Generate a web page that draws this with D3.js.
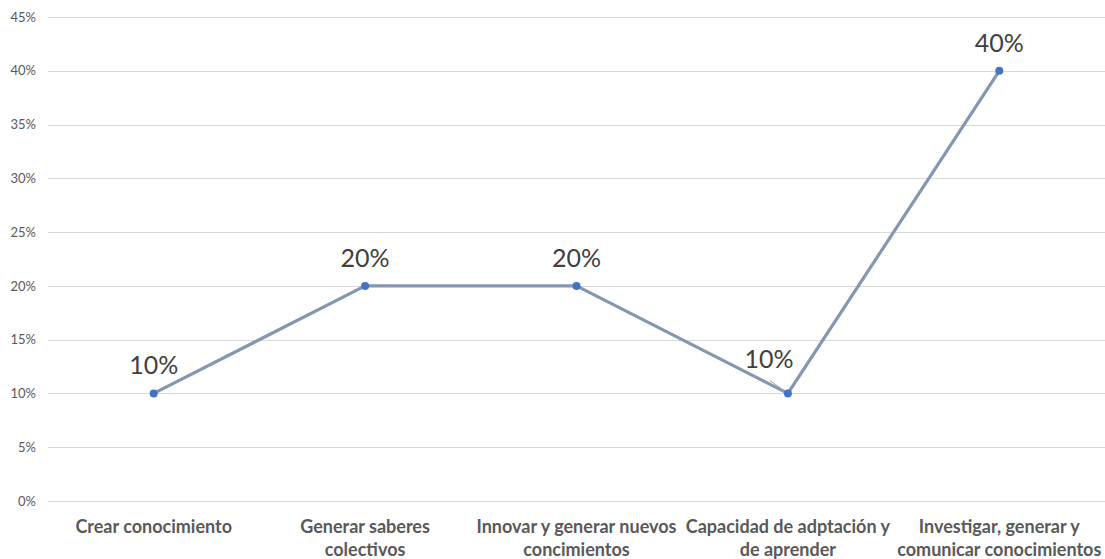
<!DOCTYPE html>
<html>
<head>
<meta charset="utf-8">
<script src="https://cdn.jsdelivr.net/npm/d3@7"></script>
<style>
  body { margin: 0; background: #fff; }
  svg { display: block; }
  .grid line { stroke: #d9d9d9; stroke-width: 1; }
  .yaxis text { font-family: Lato, "Open Sans", sans-serif; font-size: 13px; fill: #595959; }
  .xaxis text { font-family: Lato, "Open Sans", sans-serif; font-size: 18px; font-weight: bold; fill: #595959; }
  .lbl { font-family: Lato, "Open Sans", sans-serif; font-size: 25px; fill: #404040; }
</style>
</head>
<body>
<div id="chart"></div>
<script>
var categories = [
  ['Crear conocimiento'],
  ['Generar saberes', 'colectivos'],
  ['Innovar y generar nuevos', 'concimientos'],
  ['Capacidad de adptación y', 'de aprender'],
  ['Investigar, generar y', 'comunicar conocimientos']
];
var values = [0.10, 0.20, 0.20, 0.10, 0.40];
var yTicks = [0, 0.05, 0.10, 0.15, 0.20, 0.25, 0.30, 0.35, 0.40, 0.45];

var width = 1105, height = 559;
var margin = { top: 17, right: 0, bottom: 58, left: 48 };

var svg = d3.select('#chart').append('svg')
  .attr('width', width)
  .attr('height', height);

var x = d3.scaleBand()
  .domain(d3.range(categories.length))
  .range([margin.left, width - margin.right]);

var y = d3.scaleLinear()
  .domain([0, 0.45])
  .range([height - margin.bottom, margin.top]);

var fmt = d3.format('.0%');

// gridlines
svg.append('g')
  .attr('class', 'grid')
  .selectAll('line')
  .data(yTicks)
  .enter().append('line')
  .attr('x1', margin.left)
  .attr('x2', width - margin.right)
  .attr('y1', function (d) { return Math.round(y(d)) + 0.5; })
  .attr('y2', function (d) { return Math.round(y(d)) + 0.5; });

// y axis
var yAxis = d3.axisLeft(y).tickValues(yTicks).tickFormat(fmt).tickSize(0).tickPadding(12);
svg.append('g')
  .attr('class', 'yaxis')
  .attr('transform', 'translate(' + margin.left + ',0)')
  .call(yAxis)
  .call(function (g) { g.select('.domain').remove(); });

// x labels
var xl = svg.append('g').attr('class', 'xaxis')
  .selectAll('text')
  .data(categories)
  .enter().append('text')
  .attr('text-anchor', 'middle')
  .attr('x', function (d, i) { return x(i) + x.bandwidth() / 2; })
  .attr('y', height - margin.bottom + 32);
xl.selectAll('tspan')
  .data(function (d) { return d; })
  .enter().append('tspan')
  .attr('x', function () { return d3.select(this.parentNode).attr('x'); })
  .attr('dy', function (d, i) { return i === 0 ? 0 : 23; })
  .text(function (d) { return d; });

// line
var line = d3.line()
  .x(function (d, i) { return x(i) + x.bandwidth() / 2; })
  .y(function (d) { return y(d); });

svg.append('path')
  .datum(values)
  .attr('fill', 'none')
  .attr('stroke', '#8497b0')
  .attr('stroke-width', 3.2)
  .attr('stroke-linejoin', 'round')
  .attr('d', line);

svg.selectAll('circle.pt')
  .data(values)
  .enter().append('circle')
  .attr('class', 'pt')
  .attr('cx', function (d, i) { return x(i) + x.bandwidth() / 2; })
  .attr('cy', function (d) { return y(d); })
  .attr('r', 4)
  .attr('fill', '#4472c4');

// data labels (4th one was dragged aside in the original, with a leader line)
var offsets = [[0, 0], [0, 0], [0, 0], [-19, -6], [0, 0]];

svg.append('line')
  .attr('x1', x(3) + x.bandwidth() / 2 - 18)
  .attr('y1', y(values[3]) - 13)
  .attr('x2', x(3) + x.bandwidth() / 2 - 4)
  .attr('y2', y(values[3]) - 3)
  .attr('stroke', '#a6a6a6')
  .attr('stroke-width', 1);

svg.selectAll('text.lbl')
  .data(values)
  .enter().append('text')
  .attr('class', 'lbl')
  .attr('text-anchor', 'middle')
  .attr('x', function (d, i) { return x(i) + x.bandwidth() / 2 + offsets[i][0]; })
  .attr('y', function (d, i) { return y(d) - 19 + offsets[i][1]; })
  .text(function (d) { return fmt(d); });
</script>
</body>
</html>
